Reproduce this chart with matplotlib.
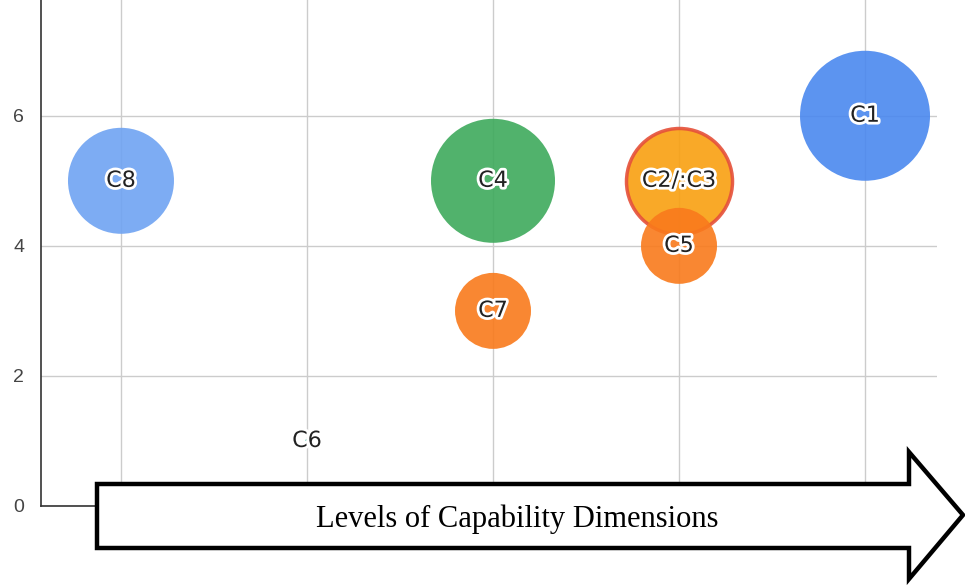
import numpy as np
import matplotlib.pyplot as plt
from matplotlib.patches import Polygon
import matplotlib.patheffects as pe

# bubble data: x level, y level, bubble size value
labels = ['C8', 'C6', 'C4', 'C7', 'C2/:C3', 'C5', 'C1']
x_vals = [1, 2, 3, 3, 4, 4, 5]
y_vals = [5, 1, 5, 3, 5, 4, 6]
size_vals = [53, 2, 62, 38, 53, 38, 65]
colors = ['#6fa3f2', '#8fd6c6', '#3eaa5c', '#f97a1c', '#f9a010', '#f97a1c', '#4a88ef']
edges = ['none', 'none', 'none', 'none', '#e5503a', 'none', 'none']
y_ticks = [0, 2, 4, 6]
arrow_text = 'Levels of Capability Dimensions'

W, H = 965, 586
fig = plt.figure(figsize=(W / 100, H / 100), dpi=100)
ax = fig.add_axes([41 / W, 1 - 506 / H, (937 - 41) / W, 506 / H])

ax.set_xlim(0.57, 5.387)
ax.set_ylim(0, 7.78)

# bubbles (size value ~ radius in px)
for i in range(len(labels)):
    r = size_vals[i] * 0.72
    s = (2 * r) ** 2
    lw = 2.5 if edges[i] != 'none' else 0
    ax.scatter(x_vals[i], y_vals[i], s=s, c=colors[i], alpha=0.9,
               edgecolors=edges[i], linewidths=lw, zorder=3 + (i == 5))

for i in range(len(labels)):
    ax.text(x_vals[i], y_vals[i], labels[i], ha='center', va='center',
            fontsize=16, family='DejaVu Sans', color='#222222', zorder=10,
            path_effects=[pe.withStroke(linewidth=4, foreground='white')])

ax.set_xticks([1, 2, 3, 4, 5])
ax.set_yticks(y_ticks)
ax.set_xticklabels([])
ax.set_yticklabels([str(t) for t in y_ticks], family='Liberation Sans',
                   fontsize=14, color='#444444')
ax.tick_params(length=0, pad=16)
ax.tick_params(axis='y', pad=12)
ax.grid(True, color='#cccccc', linewidth=1)
ax.set_axisbelow(True)
for side in ['top', 'right']:
    ax.spines[side].set_visible(False)
ax.spines['left'].set_color('#333333')
ax.spines['bottom'].set_color('#333333')
ax.spines['left'].set_linewidth(1.2)
ax.spines['bottom'].set_linewidth(1.2)

# big arrow across the bottom
pts = [(97, 484), (909, 484), (909, 452), (963, 515), (909, 579),
       (909, 548), (97, 548)]
pts = [(px / W, 1 - py / H) for px, py in pts]
arrow = Polygon(pts, closed=True, facecolor='white', edgecolor='black',
                linewidth=3.2, transform=fig.transFigure, zorder=20,
                joinstyle='miter')
fig.patches.append(arrow)
fig.text(517 / W, 1 - 519 / H, arrow_text, ha='center', va='center',
         family='Liberation Serif', fontsize=22, color='black', zorder=21)

plt.savefig('out.png', dpi=100, facecolor='white')
